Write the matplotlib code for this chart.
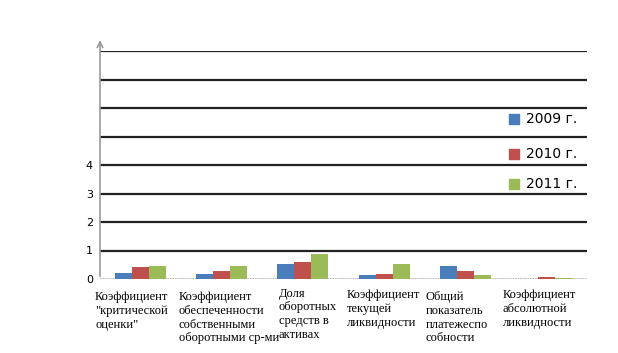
import matplotlib
matplotlib.use("Agg")
import matplotlib.pyplot as plt
import numpy as np

categories = [
    'Коэффициент\n"критической\nоценки"',
    'Коэффициент\nобеспеченности\nсобственными\nоборотными ср-ми',
    'Доля\nоборотных\nсредств в\nактивах',
    'Коэффициент\nтекущей\nликвидности',
    'Общий\nпоказатель\nплатежеспо\nсобности',
    'Коэффициент\nабсолютной\nликвидности',
]
v2009 = [0.21, 0.19, 0.51, 0.15, 0.46, 0.0]
v2010 = [0.41, 0.28, 0.59, 0.19, 0.29, 0.07]
v2011 = [0.46, 0.44, 0.87, 0.51, 0.15, 0.05]
years = ['2009 г.', '2010 г.', '2011 г.']
colors = ['#4a7ebb', '#c0504d', '#9bbb59']

# left edges / tops of the category labels (in data units)
label_x = [-0.56, 0.47, 1.70, 2.54, 3.51, 4.46]
label_y = [-0.42, -0.42, -0.3, -0.36, -0.42, -0.36]

fig = plt.figure(figsize=(6.18, 3.53), dpi=100)
ax = fig.add_axes([100/618, 1-279/353, 487/618, 228/353])

x = np.arange(len(categories))
w = 0.21
for k, vals in enumerate([v2009, v2010, v2011]):
    ax.bar(x + (k-1)*w, vals, w, color=colors[k], edgecolor='none', zorder=3)

ax.set_xlim(-0.5, 5.5)
ax.set_ylim(0, 8)
for y in range(1, 9):
    ax.axhline(y, color='#222222', lw=1.6, zorder=1)
ax.axhline(0, color='#aaaaaa', lw=1.2, ls=(0, (1, 0.5)), zorder=2)

for s in ax.spines.values():
    s.set_visible(False)
ax.set_xticks([])
ax.set_yticks([0, 1, 2, 3, 4])
ax.set_yticklabels(['0', '1', '2', '3', '4'], fontsize=8)
ax.tick_params(axis='y', length=0, pad=5)

# y axis with arrow
ax.annotate('', xy=(0, 1.06), xytext=(0, 0), xycoords='axes fraction',
            arrowprops=dict(arrowstyle='->', color='#999999', lw=1.2),
            annotation_clip=False)

for i, lab in enumerate(categories):
    ax.text(label_x[i], label_y[i], lab, ha='left', va='top', fontsize=9,
            family='Liberation Serif', linespacing=1.2, clip_on=False)

# legend
leg_y = [5.6, 4.4, 3.35]
for k in range(3):
    ax.scatter([4.6], [leg_y[k]], marker='s', s=45, color=colors[k], clip_on=False, zorder=4)
    ax.text(4.75, leg_y[k], years[k], ha='left', va='center', fontsize=10,
            family='DejaVu Sans', clip_on=False)

fig.savefig('out.png', dpi=100)
